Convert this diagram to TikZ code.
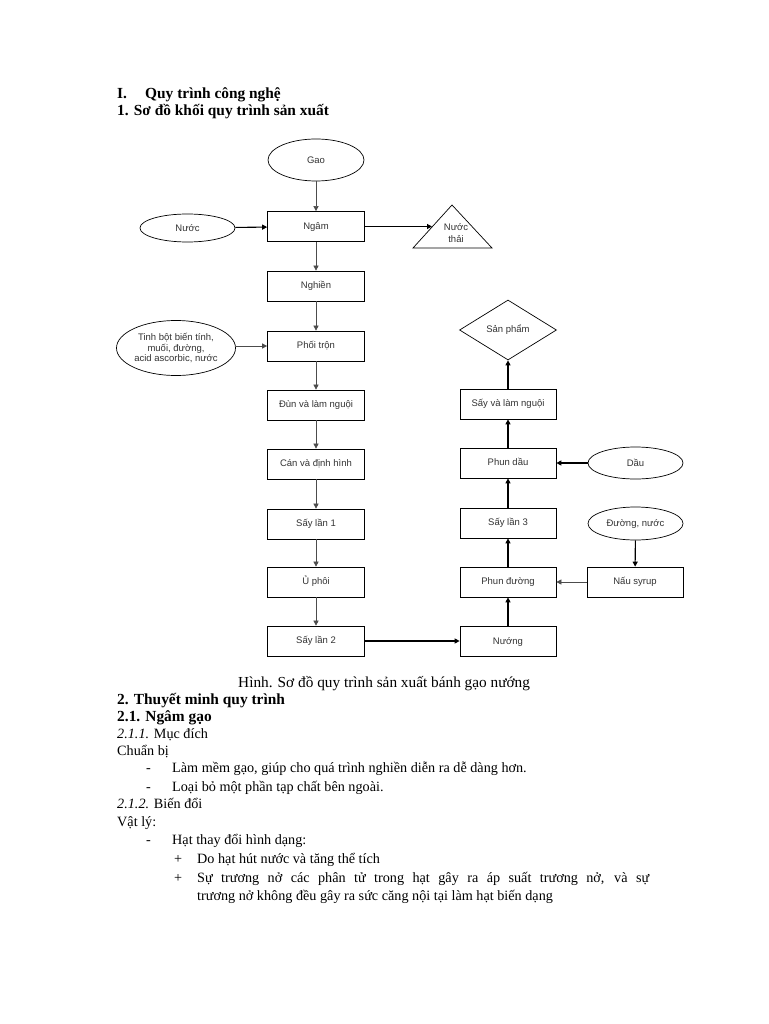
\documentclass[tikz,border=0pt]{standalone}
\usepackage{fontspec}
\setmainfont{Liberation Serif}
\newfontfamily\diagfont{Liberation Sans}
\usetikzlibrary{shapes.geometric,arrows.meta}
\begin{document}
\begin{tikzpicture}[x=1pt,y=-1pt,
  dfont/.style={font=\diagfont\fontsize{9.5}{11}\selectfont, text=black!80},
  box/.style={draw, line width=0.7pt, minimum width=97pt, minimum height=30pt, inner sep=0pt, text height=7pt, text depth=1.5pt, dfont},
  rbox/.style={box, minimum width=96pt},
  oval/.style={draw, ellipse, line width=0.7pt, inner sep=0pt, align=center, dfont},
  dia/.style={draw, diamond, line width=0.7pt, inner sep=0pt, minimum width=97pt, minimum height=60pt, text height=7pt, text depth=1.5pt, dfont},
  thin/.style={draw=black!70, line width=0.6pt, -{Triangle[length=5pt,width=5pt]}},
  thick/.style={draw=black, line width=1.1pt, -{Triangle[length=5pt,width=5pt]}},
  txt/.style={anchor=base west, inner sep=0pt, font=\fontsize{14.2}{17.5}\selectfont},
  btxt/.style={txt, font=\fontsize{15.4}{17.5}\selectfont\bfseries}
]
\useasboundingbox[fill=white] (0,0) rectangle (768,1024);

% headings
\node[btxt] (h1a) at (117,99) {I.};
\node[btxt] (h1b) at (145,99) {Quy trình công nghệ};
\node[btxt] (h2) at (117,116) {1. Sơ đồ khối quy trình sản xuất};

% diagram nodes
\node[oval, minimum width=96pt, minimum height=42pt] (gao) at (316,160) {Gao};
\node[box] (ngam) at (316,226.5) {Ngâm};
\node[oval, minimum width=95pt, minimum height=28pt] (nuoc) at (187.5,228) {Nước};
\coordinate (tA) at (452,205);
\coordinate (tB) at (413,248);
\coordinate (tC) at (492,248);
\draw[line width=0.7pt] (tA) -- (tB) -- (tC) -- cycle;
\node[dfont, align=center, inner sep=0pt, font=\diagfont\fontsize{9.5}{11.5}\selectfont] (thai) at (456,233) {Nước\\thải};
\coordinate (tin) at (432,226.5);

\node[box] (nghien) at (316,286) {Nghiền};
\node[box] (phoi) at (316,346) {Phối trộn};
\node[oval, minimum width=119pt, minimum height=55pt, font=\diagfont\fontsize{9.5}{10.5}\selectfont] (tinhbot) at (176,348) {Tinh bột biến tính,\\muối, đường,\\acid ascorbic, nước};
\node[box] (dun) at (316,405) {Đùn và làm nguội};
\node[box] (can) at (316,464) {Cán và định hình};
\node[box] (say1) at (316,524) {Sấy lần 1};
\node[box] (uphoi) at (316,582) {Ủ phôi};
\node[box] (say2) at (316,641) {Sấy lần 2};

\node[rbox] (nuong) at (508,641.5) {Nướng};
\node[rbox] (phunduong) at (508,582) {Phun đường};
\node[rbox] (nau) at (635,582) {Nấu syrup};
\node[oval, minimum width=95pt, minimum height=33pt] (duongnuoc) at (635.5,523.5) {Đường, nước};
\node[rbox] (say3) at (508,523) {Sấy lần 3};
\node[rbox] (phundau) at (508,463) {Phun dầu};
\node[oval, minimum width=95pt, minimum height=32pt] (dau) at (635.5,463) {Dầu};
\node[rbox] (saylam) at (508,404) {Sấy và làm nguội};
\node[dia] (sanpham) at (508,330) {Sản phẩm};

% connectors
\draw[thin] (gao) -- (ngam);
\draw[thick] (nuoc) -- (ngam);
\draw[thick] (ngam) -- (tin);
\draw[thin] (ngam) -- (nghien);
\draw[thin] (nghien) -- (phoi);
\draw[thin] (tinhbot.east |- phoi) -- (phoi);
\draw[thin] (phoi) -- (dun);
\draw[thin] (dun) -- (can);
\draw[thin] (can) -- (say1);
\draw[thin] (say1) -- (uphoi);
\draw[thin] (uphoi) -- (say2);
\draw[thick] (say2.east) -- (say2.east -| nuong.west);
\draw[thick] (nuong) -- (phunduong);
\draw[thin] (nau) -- (phunduong);
\draw[thick] (duongnuoc) -- (nau);
\draw[thick] (phunduong) -- (say3);
\draw[thick] (say3) -- (phundau);
\draw[thick] (dau) -- (phundau);
\draw[thick] (phundau) -- (saylam);
\draw[thick] (saylam) -- (sanpham);

% body text
\node[txt, font=\fontsize{15.3}{17.5}\selectfont] (cap) at (238,687) {Hình. Sơ đồ quy trình sản xuất bánh gạo nướng};
\node[btxt] (s2) at (117,704) {2. Thuyết minh quy trình};
\node[btxt] (s21) at (117,721) {2.1. Ngâm gạo};
\node[txt] (s211) at (117,738) {\textit{2.1.1.} Mục đích};
\node[txt] (cb) at (117,755) {Chuẩn bị};
\node[txt] (d1) at (146,772) {-};
\node[txt] (l1) at (172,772) {Làm mềm gạo, giúp cho quá trình nghiền diễn ra dễ dàng hơn.};
\node[txt] (d2) at (146,791) {-};
\node[txt] (l2) at (172,791) {Loại bỏ một phần tạp chất bên ngoài.};
\node[txt] (s212) at (117,808) {\textit{2.1.2.} Biến đổi};
\node[txt] (vl) at (117,826) {Vật lý:};
\node[txt] (d3) at (146,844) {-};
\node[txt] (l3) at (172,844) {Hạt thay đổi hình dạng:};
\node[txt] (p1) at (174,863) {+};
\node[txt] (l4) at (197,863) {Do hạt hút nước và tăng thể tích};
\node[txt] (p2) at (174,882) {+};
\node[txt] (l5) at (197,882) {\makebox[452pt][s]{Sự trương nở các phân tử trong hạt gây ra áp suất trương nở, và sự}};
\node[txt] (l6) at (197,900) {trương nở không đều gây ra sức căng nội tại làm hạt biến dạng};
\end{tikzpicture}
\end{document}
